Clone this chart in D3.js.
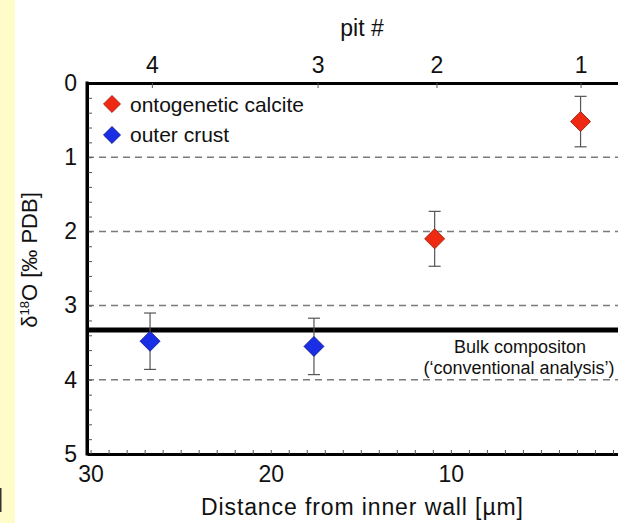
<!DOCTYPE html>
<html>
<head>
<meta charset="utf-8">
<script src="https://cdn.jsdelivr.net/npm/d3@7"></script>
<style>
  html, body { margin: 0; padding: 0; background: #fff; }
  svg { display: block; }
  text { font-family: "Liberation Sans", Arial, Helvetica, sans-serif; fill: #111; }
</style>
</head>
<body>
<svg id="chart" width="618" height="523"></svg>
<script>
// ---- data ----
const seriesNames = ["ontogenetic calcite", "outer crust"];
const seriesColors = ["#ee2b12", "#1a2ee6"];
const seriesStroke = ["#9a1a08", "#0b168a"];

// ontogenetic calcite (pits 1 and 2)
const ontoDistance = [2.8, 10.9];
const ontoValue    = [0.52, 2.10];
const ontoErr      = [0.34, 0.37];

// outer crust (pits 3 and 4)
const crustDistance = [17.6, 26.7];
const crustValue    = [3.55, 3.48];
const crustErr      = [0.38, 0.38];

// top axis: pit numbers
const pitLabels   = ["4", "3", "2", "1"];
const pitDistance = [26.6, 17.4, 10.8, 2.8];

// axis ticks
const xMajorTicks = [30, 20, 10];
const yMajorTicks = [0, 1, 2, 3, 4, 5];
const gridValues  = [1, 2, 3, 4];

const bulkValue = 3.33;
const bulkLabel = ["Bulk compositon", "(\u2018conventional analysis\u2019)"];

// ---- layout ----
const svg = d3.select("#chart");
const pL = 87, pT = 83, pB = 454, pR = 631;

const x = d3.scaleLinear().domain([30.2, 0]).range([pL, pR]);
const y = d3.scaleLinear().domain([0, 5]).range([pT, pB]);

// yellow strip on the left
svg.append("rect").attr("x", 0).attr("y", 0).attr("width", 15).attr("height", 523).attr("fill", "#fffcc9");
svg.append("rect").attr("x", 0).attr("y", 488).attr("width", 1.5).attr("height", 24).attr("fill", "#333");

// dashed grid
svg.append("g").selectAll("line").data(gridValues).join("line")
  .attr("x1", pL).attr("x2", pR)
  .attr("y1", d => y(d)).attr("y2", d => y(d))
  .attr("stroke", "#7a7a7a").attr("stroke-width", 1.5).attr("stroke-dasharray", "7,5");

// bulk line
svg.append("line").attr("x1", pL).attr("x2", pR)
  .attr("y1", y(bulkValue)).attr("y2", y(bulkValue))
  .attr("stroke", "#000").attr("stroke-width", 5);

svg.append("text").attr("x", 520).attr("y", 352.5).attr("text-anchor", "middle")
  .style("font-size", "18px").text(bulkLabel[0]);
svg.append("text").attr("x", 519).attr("y", 373.5).attr("text-anchor", "middle")
  .style("font-size", "18px").text(bulkLabel[1]);

// axes
const fmtInt = d => Math.abs(d - Math.round(d)) < 1e-6 && yMajorTicks.includes(Math.round(d)) ? Math.round(d) : "";
const yAxis = d3.axisLeft(y).tickValues(d3.range(0, 26).map(i => i * 0.2))
  .tickFormat(fmtInt).tickSizeInner(-5).tickSizeOuter(0).tickPadding(10);
const gY = svg.append("g").attr("transform", `translate(${pL},0)`).call(yAxis);

const xAxis = d3.axisBottom(x).tickValues(d3.range(1, 31))
  .tickFormat(d => xMajorTicks.includes(d) ? d : "").tickSizeInner(-4).tickSizeOuter(0).tickPadding(12);
const gX = svg.append("g").attr("transform", `translate(0,${pB})`).call(xAxis);

const topAxis = d3.axisTop(x).tickValues(pitDistance)
  .tickFormat((d, i) => pitLabels[i]).tickSizeInner(-5).tickSizeOuter(0).tickPadding(10);
const gT = svg.append("g").attr("transform", `translate(0,${pT})`).call(topAxis);

[gY, gX, gT].forEach(g => {
  g.select(".domain").attr("stroke", "#000").attr("stroke-width", 3);
  g.selectAll(".tick line").attr("stroke", "#555").attr("stroke-width", 1);
  g.selectAll(".tick text").style("font-size", "23px").attr("fill", "#111")
    .style("font-family", "'Liberation Sans', Arial, sans-serif");
});
svg.append("line").attr("x1", pL).attr("x2", pL).attr("y1", pT - 1.5).attr("y2", pB + 1.5)
  .attr("stroke", "#000").attr("stroke-width", 3);

// error bars & markers
const points = [];
ontoDistance.forEach((d, i) => points.push({ d, v: ontoValue[i], e: ontoErr[i], s: 0 }));
crustDistance.forEach((d, i) => points.push({ d, v: crustValue[i], e: crustErr[i], s: 1 }));

const eb = svg.append("g").attr("stroke", "#555").attr("stroke-width", 1.2);
points.forEach(p => {
  const cx = x(p.d), y1 = y(p.v - p.e), y2 = y(p.v + p.e);
  eb.append("line").attr("x1", cx).attr("x2", cx).attr("y1", y1).attr("y2", y2);
  eb.append("line").attr("x1", cx - 6).attr("x2", cx + 6).attr("y1", y1).attr("y2", y1);
  eb.append("line").attr("x1", cx - 6).attr("x2", cx + 6).attr("y1", y2).attr("y2", y2);
});

const diamond = d3.symbol().type(d3.symbolSquare).size(200);
svg.append("g").selectAll("path").data(points).join("path")
  .attr("d", diamond)
  .attr("transform", p => `translate(${x(p.d)},${y(p.v)}) rotate(45)`)
  .attr("fill", p => seriesColors[p.s]).attr("stroke", p => seriesStroke[p.s]).attr("stroke-width", 0.8);

// legend
const legendY = [104, 135];
const legendBase = [112, 142];
const smallDiamond = d3.symbol().type(d3.symbolSquare).size(144);
seriesNames.forEach((name, i) => {
  svg.append("path").attr("d", smallDiamond)
    .attr("transform", `translate(112,${legendY[i]}) rotate(45)`)
    .attr("fill", seriesColors[i]).attr("stroke", seriesStroke[i]).attr("stroke-width", 0.8);
  svg.append("text").attr("x", 130).attr("y", legendBase[i]).style("font-size", "21px").text(name);
});

// axis titles
svg.append("text").attr("x", 362).attr("y", 36).attr("text-anchor", "middle")
  .style("font-size", "23px").text("pit #");
svg.append("text").attr("x", 362).attr("y", 515).attr("text-anchor", "middle")
  .attr("textLength", 322).attr("lengthAdjust", "spacing")
  .style("font-size", "23px").text("Distance from inner wall [\u00b5m]");

const yt = svg.append("text").attr("transform", "translate(37,260) rotate(-90)")
  .attr("text-anchor", "middle").style("font-size", "22px");
yt.append("tspan").text("\u03b4");
yt.append("tspan").attr("dy", -8).style("font-size", "13px").text("18");
yt.append("tspan").attr("dy", 8).text("O [\u2030 PDB]");
</script>
</body>
</html>
